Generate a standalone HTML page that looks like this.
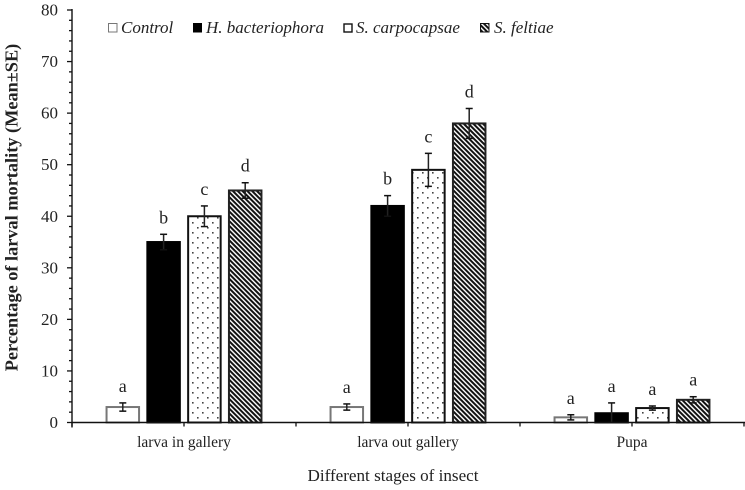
<!DOCTYPE html>
<html>
<head>
<meta charset="utf-8">
<title>Percentage of larval mortality</title>
<style>
html,body{margin:0;padding:0;background:#fff;}
svg{display:block;}
text{font-family:"Liberation Serif",serif;fill:#222;}
</style>
</head>
<body>
<svg id="chart" xmlns="http://www.w3.org/2000/svg" width="745" height="490" viewBox="0 0 745 490">
<defs>
<pattern id="dots" patternUnits="userSpaceOnUse" width="10" height="10">
<rect width="10" height="10" fill="#fff"/>
<rect x="2" y="2" width="1.6" height="1.6" fill="#444"/>
<rect x="7" y="7" width="1.6" height="1.6" fill="#444"/>
</pattern>
<pattern id="hatch" patternUnits="userSpaceOnUse" width="3.4" height="3.4" patternTransform="rotate(45)">
<rect width="3.4" height="3.4" fill="#fff"/>
<rect width="3.4" height="2" fill="#111"/>
</pattern>
</defs>
<g id="plot"></g>
<g>
<g>
<rect x="108.5" y="23.5" width="8.5" height="8.5" fill="#fff" stroke="#777" stroke-width="1"/>
<text x="121" y="33" font-size="17" font-style="italic">Control</text>
</g>
<g>
<rect x="193" y="23" width="9" height="9.5" fill="#000"/>
<text x="206" y="33" font-size="17" font-style="italic">H. bacteriophora</text>
</g>
<g>
<rect x="344" y="24" width="8" height="8" fill="#fff" stroke="#111" stroke-width="1.4"/>
<text x="356" y="33" font-size="17" font-style="italic">S. carpocapsae</text>
</g>
<g>
<rect x="480.5" y="23.5" width="8.5" height="8.5" fill="url(#hatch)" stroke="#111" stroke-width="1"/>
<text x="494" y="33" font-size="17" font-style="italic">S. feltiae</text>
</g>
</g>
<text transform="translate(17.5,207.5) rotate(-90)" text-anchor="middle" font-size="18.3" font-weight="bold">Percentage of larval mortality (Mean±SE)</text>
<text x="393" y="481" text-anchor="middle" font-size="17.1">Different stages of insect</text>
<script>
var categories = ['larva in gallery', 'larva out gallery', 'Pupa'];
var seriesNames = ['control', 'h-bacteriophora', 's-carpocapsae', 's-feltiae'];
var controlValues = [3, 3, 1];
var hBacteriophoraValues = [35, 42, 1.8];
var sCarpocapsaeValues = [40, 49, 2.8];
var sFeltiaeValues = [45, 58, 4.4];
var controlErrors = [0.8, 0.6, 0.5];
var hBacteriophoraErrors = [1.5, 2, 2];
var sCarpocapsaeErrors = [2, 3.2, 0.4];
var sFeltiaeErrors = [1.5, 2.9, 0.6];
var controlLetters = ['a', 'a', 'a'];
var hBacteriophoraLetters = ['b', 'b', 'a'];
var sCarpocapsaeLetters = ['c', 'c', 'a'];
var sFeltiaeLetters = ['d', 'd', 'a'];
var yTickLabels = [0, 10, 20, 30, 40, 50, 60, 70, 80];
var yMinorStep = 2;

var allValues = [controlValues, hBacteriophoraValues, sCarpocapsaeValues, sFeltiaeValues];
var allErrors = [controlErrors, hBacteriophoraErrors, sCarpocapsaeErrors, sFeltiaeErrors];
var allLetters = [controlLetters, hBacteriophoraLetters, sCarpocapsaeLetters, sFeltiaeLetters];
var fills = ['#fff', '#000', 'url(#dots)', 'url(#hatch)'];
var strokes = ['#777', '#000', '#111', '#222'];

var NS = 'http://www.w3.org/2000/svg';
var plot = document.getElementById('plot');
var axisLeft = 72, axisRight = 744, axisBottom = 422.5, axisTop = 10;
var yMax = yTickLabels[yTickLabels.length - 1];
function yScale(v) { return axisBottom - (v / yMax) * (axisBottom - axisTop); }
var groupWidth = (axisRight - axisLeft) / categories.length;
function xGroup(i) { return axisLeft + groupWidth * (i + 0.5); }
var barWidth = 32.5, barStep = 40.8;
function xBar(i, s) { return xGroup(i) + (s - (seriesNames.length - 1) / 2) * barStep; }
function mk(tag, attrs, parent) {
  var el = document.createElementNS(NS, tag);
  for (var k in attrs) el.setAttribute(k, attrs[k]);
  (parent || plot).appendChild(el);
  return el;
}
function drawLine(x1, y1, x2, y2, color, width, parent) {
  return mk('line', {x1: x1, y1: y1, x2: x2, y2: y2, stroke: color, 'stroke-width': width}, parent);
}

categories.forEach(function (cat, i) {
  seriesNames.forEach(function (name, s) {
    var v = allValues[s][i], e = allErrors[s][i], cx = xBar(i, s);
    var bar = mk('rect', {x: cx - barWidth / 2, y: yScale(v), width: barWidth, height: axisBottom - yScale(v), fill: fills[s], stroke: strokes[s], 'stroke-width': 2});
    
    

    var g = mk('g', {});
    
    
    var top = yScale(v + e), bot = yScale(Math.max(v - e, 0));
    drawLine(cx, top, cx, bot, '#222', 1.5, g);
    drawLine(cx - 3.5, top, cx + 3.5, top, '#111', 1.5, g);
    drawLine(cx - 3.5, bot, cx + 3.5, bot, '#111', 1.5, g);

    var lab = mk('text', {x: cx, y: top - 11, 'text-anchor': 'middle', 'font-size': 18});
    lab.textContent = allLetters[s][i];
    
    
  });
  var catLabel = mk('text', {x: xGroup(i), y: 447, 'text-anchor': 'middle', 'font-size': 15.5});
  catLabel.textContent = cat;
  
  
});

var yAxis = mk('g', {});


drawLine(axisLeft, axisTop - 1, axisLeft, axisBottom + 5, '#111', 1.4, yAxis);
for (var t = 0; t <= yMax; t += yMinorStep) {
  var major = t % 10 === 0;
  drawLine(axisLeft - (major ? 5 : 3), yScale(t), axisLeft, yScale(t), '#111', 1.3, yAxis);
}
yTickLabels.forEach(function (t) {
  var lab = mk('text', {x: 58, y: yScale(t) + 5.5, 'text-anchor': 'end', 'font-size': 17}, yAxis);
  lab.textContent = t;
  
  
});

var xAxis = mk('g', {});


drawLine(axisLeft, axisBottom, axisRight + 1, axisBottom, '#111', 1.5, xAxis);
for (var j = 0; j <= categories.length * 2; j++) {
  var tx = axisLeft + j * groupWidth / 2;
  drawLine(tx, axisBottom, tx, axisBottom + 4, '#111', 1.3, xAxis);
}
</script>
</svg>
</body>
</html>
